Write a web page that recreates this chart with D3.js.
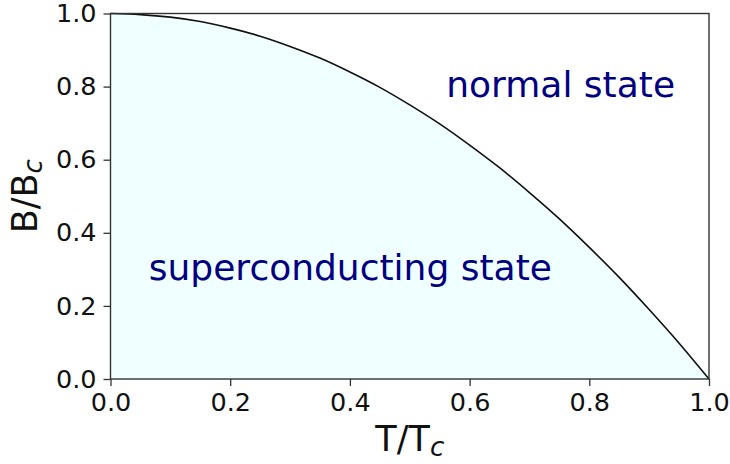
<!DOCTYPE html>
<html>
<head>
<meta charset="utf-8">
<script src="https://cdn.jsdelivr.net/npm/d3@7"></script>
<style>
  html, body { margin: 0; padding: 0; background: #fff; }
  svg { display: block; }
  text { font-family: "DejaVu Sans", sans-serif; }
</style>
</head>
<body>
<svg id="chart" width="730" height="464"></svg>
<script>
// Critical field curve: reduced temperature T/Tc and reduced field B/Bc
const tValues = [0, 0.05, 0.10, 0.15, 0.20, 0.25, 0.30, 0.35, 0.40, 0.45, 0.50,
                 0.55, 0.60, 0.65, 0.70, 0.75, 0.80, 0.85, 0.90, 0.95, 1.00];
const bValues = [1.000, 0.997, 0.990, 0.978, 0.960, 0.938, 0.910, 0.878, 0.840, 0.798, 0.750,
                 0.698, 0.640, 0.578, 0.510, 0.438, 0.360, 0.278, 0.190, 0.098, 0.000];
const xTicks = [0, 0.2, 0.4, 0.6, 0.8, 1.0];
const yTicks = [0, 0.2, 0.4, 0.6, 0.8, 1.0];
const regionLabels = [
  { text: "normal state", t: 0.561, b: 0.772 },
  { text: "superconducting state", t: 0.064, b: 0.271 }
];

const points = tValues.map((t, i) => ({ t, b: bValues[i] }));

const svg = d3.select("#chart");
const plotLeft = 110.5, plotRight = 709, plotTop = 13.5, plotBottom = 379;

const x = d3.scaleLinear().domain([0, 1]).range([plotLeft, plotRight]);
const y = d3.scaleLinear().domain([0, 1]).range([plotBottom, plotTop]);

// Superconducting region below the curve
svg.append("path")
  .datum(points)
  .attr("fill", "#f0ffff")
  .attr("d", d3.area()
    .x(d => x(d.t))
    .y0(y(0))
    .y1(d => y(d.b))
    .curve(d3.curveCatmullRom));

// Phase boundary
svg.append("path")
  .datum(points)
  .attr("fill", "none")
  .attr("stroke", "#111")
  .attr("stroke-width", 1.6)
  .attr("d", d3.line()
    .x(d => x(d.t))
    .y(d => y(d.b))
    .curve(d3.curveCatmullRom));

// Region annotations
svg.selectAll("text.region")
  .data(regionLabels)
  .enter().append("text")
  .attr("class", "region")
  .attr("x", d => x(d.t))
  .attr("y", d => y(d.b))
  .attr("font-size", "36px")
  .attr("fill", "#000080")
  .text(d => d.text);

// Axes
const xAxis = d3.axisBottom(x).tickValues(xTicks).tickFormat(d3.format(".1f"))
  .tickSize(7).tickPadding(7);
const yAxis = d3.axisLeft(y).tickValues(yTicks).tickFormat(d3.format(".1f"))
  .tickSize(7).tickPadding(7);

const gx = svg.append("g").attr("transform", `translate(0,${plotBottom})`).call(xAxis);
const gy = svg.append("g").attr("transform", `translate(${plotLeft},0)`).call(yAxis);

[gx, gy].forEach(g => {
  g.select(".domain").remove();
  g.selectAll(".tick line").attr("stroke", "#333").attr("stroke-width", 1.3);
  g.selectAll(".tick text")
    .attr("font-family", "DejaVu Sans, sans-serif")
    .attr("font-size", "25.5px")
    .attr("fill", "#111");
});

// Frame
svg.append("rect")
  .attr("x", plotLeft).attr("y", plotTop)
  .attr("width", plotRight - plotLeft).attr("height", plotBottom - plotTop)
  .attr("fill", "none")
  .attr("stroke", "#333")
  .attr("stroke-width", 1.4);

// Axis titles
const xl = svg.append("text")
  .attr("x", x(0.5))
  .attr("y", 451)
  .attr("text-anchor", "middle")
  .attr("font-size", "35px")
  .attr("fill", "#111");
xl.append("tspan").text("T/T");
xl.append("tspan").attr("font-size", "26px").attr("font-style", "italic").attr("dy", 5).text("c");

const yl = svg.append("text")
  .attr("transform", `translate(37,${(plotTop + plotBottom) / 2}) rotate(-90)`)
  .attr("text-anchor", "middle")
  .attr("font-size", "35px")
  .attr("fill", "#111");
yl.append("tspan").text("B/B");
yl.append("tspan").attr("font-size", "26px").attr("font-style", "italic").attr("dy", 5).text("c");
</script>
</body>
</html>
